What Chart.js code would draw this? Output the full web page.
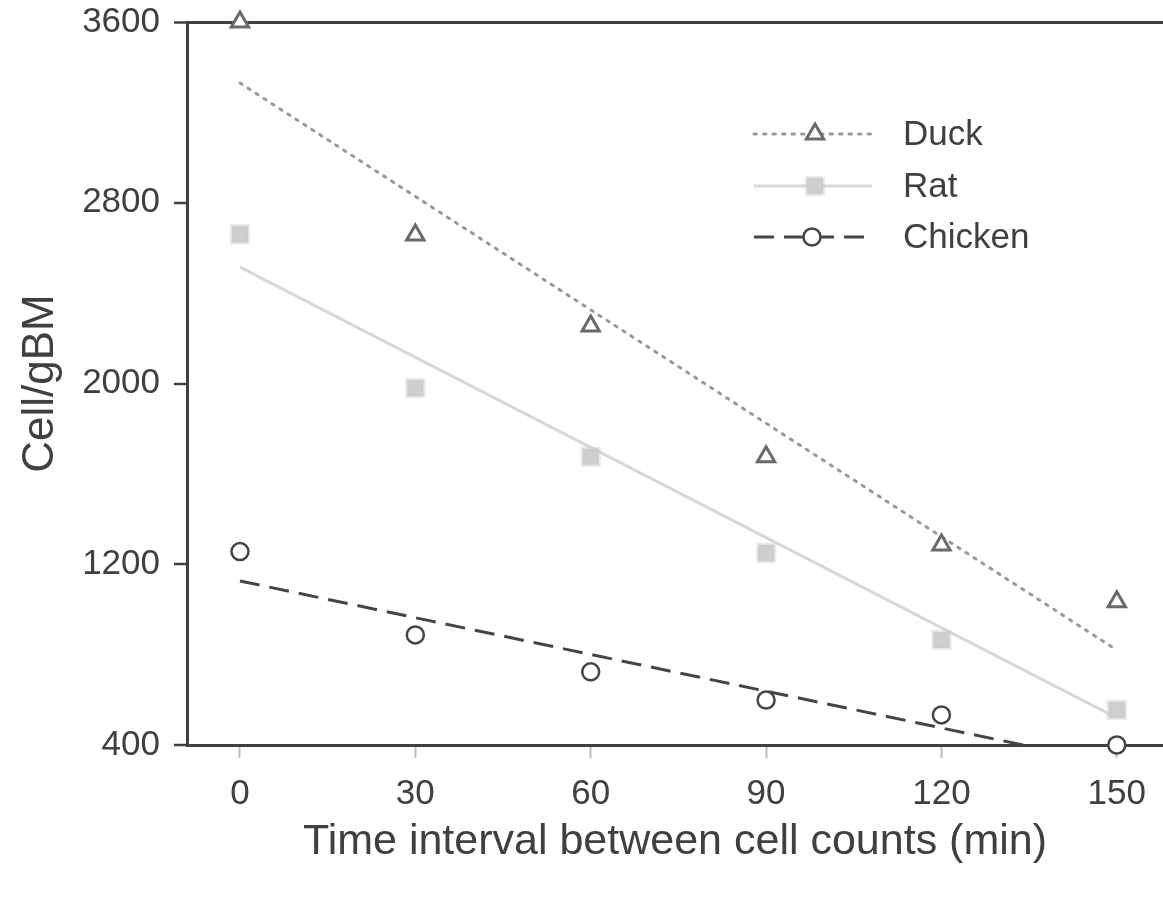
<!DOCTYPE html>
<html>
<head>
<meta charset="utf-8">
<script src="https://cdn.jsdelivr.net/npm/chart.js@4/dist/chart.umd.min.js"></script>
<style>
  html, body { margin: 0; padding: 0; background: #ffffff; overflow: hidden; width: 1163px; height: 898px; }
  #wrap { width: 1163px; height: 898px; position: absolute; left: 0; top: 0; }
  canvas { display: block; }
</style>
</head>
<body>
<div id="wrap"><canvas id="c" width="1163" height="898"></canvas></div>
<script>
// ---- data ----
const timePoints = [0, 30, 60, 90, 120, 150];
const duckCounts = [3600, 2657, 2254, 1676, 1285, 1034];
const ratCounts = [2660, 1980, 1676, 1250, 865, 555];
const chickenCounts = [1256, 887, 724, 599, 533, 400];

const trendX = [0, 150];
const duckTrend = [3330, 820];
const ratTrend = [2515, 520];
const chickenTrend = [1126, 313];

const xTickValues = [0, 30, 60, 90, 120, 150];
const yTickValues = [400, 1200, 2000, 2800, 3600];

const seriesNames = ['Duck', 'Rat', 'Chicken'];
const xTitle = 'Time interval between cell counts (min)';
const yTitle = 'Cell/gBM';

// ---- helpers ----
const pairs = (xs, ys) => xs.map((x, i) => ({ x: x, y: ys[i] }));
const FONT = "'Liberation Sans', Arial, sans-serif";
const INK = '#404040';

const duckStyle = { pointStyle: 'triangle', radius: 10, borderWidth: 3, borderColor: '#6a6a6a', backgroundColor: '#ffffff' };
const ratStyle = { pointStyle: 'rect', radius: 11.5, borderWidth: 4, borderColor: 'rgba(200,200,200,0.4)', backgroundColor: '#cfcfcf' };
const chickenStyle = { pointStyle: 'circle', radius: 8.5, borderWidth: 2.5, borderColor: '#454545', backgroundColor: '#ffffff' };

const duckLine = { borderColor: '#9a9a9a', borderWidth: 3, borderDash: [2.5, 7], borderCapStyle: 'round' };
const ratLine = { borderColor: '#d8d8d8', borderWidth: 3, borderDash: [] };
const chickenLine = { borderColor: '#454545', borderWidth: 3, borderDash: [20, 10] };

function pointDataset(label, ys, st) {
  return {
    type: 'scatter', label: label, data: pairs(timePoints, ys), order: 0, clip: false,
    pointStyle: st.pointStyle, pointRadius: st.radius, pointHoverRadius: st.radius,
    pointBorderWidth: st.borderWidth, pointBorderColor: st.borderColor, pointBackgroundColor: st.backgroundColor,
    showLine: false
  };
}
function trendDataset(label, ys, ln) {
  return {
    type: 'line', label: label + ' trend', data: pairs(trendX, ys), order: 1,
    borderColor: ln.borderColor, borderWidth: ln.borderWidth, borderDash: ln.borderDash,
    borderCapStyle: ln.borderCapStyle || 'butt', pointRadius: 0, fill: false, tension: 0
  };
}

const datasets = [
  pointDataset(seriesNames[0], duckCounts, duckStyle),
  pointDataset(seriesNames[1], ratCounts, ratStyle),
  pointDataset(seriesNames[2], chickenCounts, chickenStyle),
  trendDataset(seriesNames[0], duckTrend, duckLine),
  trendDataset(seriesNames[1], ratTrend, ratLine),
  trendDataset(seriesNames[2], chickenTrend, chickenLine)
];

// legend: line sample + marker + name, drawn with the datasets' own styles
const legendRows = [
  { name: seriesNames[0], pt: duckStyle, ln: duckLine, y: 134, px: 815 },
  { name: seriesNames[1], pt: ratStyle, ln: ratLine, y: 186, px: 815 },
  { name: seriesNames[2], pt: chickenStyle, ln: chickenLine, y: 237, px: 812 }
];
const keyPlugin = {
  id: 'seriesKey',
  afterDraw(chart) {
    const ctx = chart.ctx;
    legendRows.forEach(r => {
      ctx.save();
      ctx.strokeStyle = r.ln.borderColor;
      ctx.lineWidth = r.ln.borderWidth;
      ctx.setLineDash(r.ln.borderDash);
      ctx.lineCap = r.ln.borderCapStyle || 'butt';
      ctx.beginPath();
      ctx.moveTo(754, r.y);
      ctx.lineTo(872, r.y);
      ctx.stroke();
      ctx.setLineDash([]);
      ctx.fillStyle = r.pt.backgroundColor;
      ctx.strokeStyle = r.pt.borderColor;
      ctx.lineWidth = r.pt.borderWidth;
      Chart.helpers.drawPoint(ctx, { pointStyle: r.pt.pointStyle, radius: r.pt.radius, borderWidth: r.pt.borderWidth, rotation: 0 }, r.px, r.y);
      ctx.fillStyle = INK;
      ctx.font = '35px ' + FONT;
      ctx.textAlign = 'left';
      ctx.textBaseline = 'middle';
      ctx.fillText(r.name, 903, r.y + 1);
      ctx.restore();
    });
  }
};

new Chart(document.getElementById('c'), {
  type: 'scatter',
  data: { datasets: datasets },
  options: {
    responsive: false,
    animation: false,
    devicePixelRatio: 1,
    layout: { autoPadding: false, padding: { top: 22, right: 0, left: 0, bottom: 0 } },
    plugins: { legend: { display: false }, tooltip: { enabled: false } },
    scales: {
      x: {
        type: 'linear', min: -9.06, max: 157.9,
        afterBuildTicks: s => { s.ticks = xTickValues.map(v => ({ value: v })); },
        afterFit: s => { s.height = 153; s.paddingLeft = 0; s.paddingRight = 0; },
        grid: { drawOnChartArea: false, tickLength: 13, tickColor: '#bdbdbd', tickWidth: 2, color: '#bdbdbd' },
        border: { display: true, color: INK, width: 3 },
        ticks: { color: INK, font: { family: FONT, size: 35 }, padding: 15, maxRotation: 0, autoSkip: false, callback: v => String(v) },
        title: { display: true, text: xTitle, color: INK, font: { family: FONT, size: 43 }, padding: { top: 0, bottom: 30 } }
      },
      y: {
        type: 'linear', min: 400, max: 3600,
        afterBuildTicks: s => { s.ticks = yTickValues.map(v => ({ value: v })); },
        afterFit: s => { s.width = 187; s.paddingTop = 0; s.paddingBottom = 0; },
        grid: {
          drawOnChartArea: true, tickLength: 13, tickColor: INK, tickWidth: 2.5,
          color: c => (c.tick && c.tick.value === 3600) ? INK : 'rgba(0,0,0,0)',
          lineWidth: c => (c.tick && c.tick.value === 3600) ? 3 : 0
        },
        border: { display: true, color: INK, width: 3 },
        ticks: { color: INK, font: { family: FONT, size: 35 }, padding: 14, callback: v => String(v) },
        title: { display: true, text: yTitle, color: INK, font: { family: FONT, size: 44 }, padding: { top: 14, bottom: 0 } }
      }
    }
  },
  plugins: [keyPlugin]
});
</script>
</body>
</html>
